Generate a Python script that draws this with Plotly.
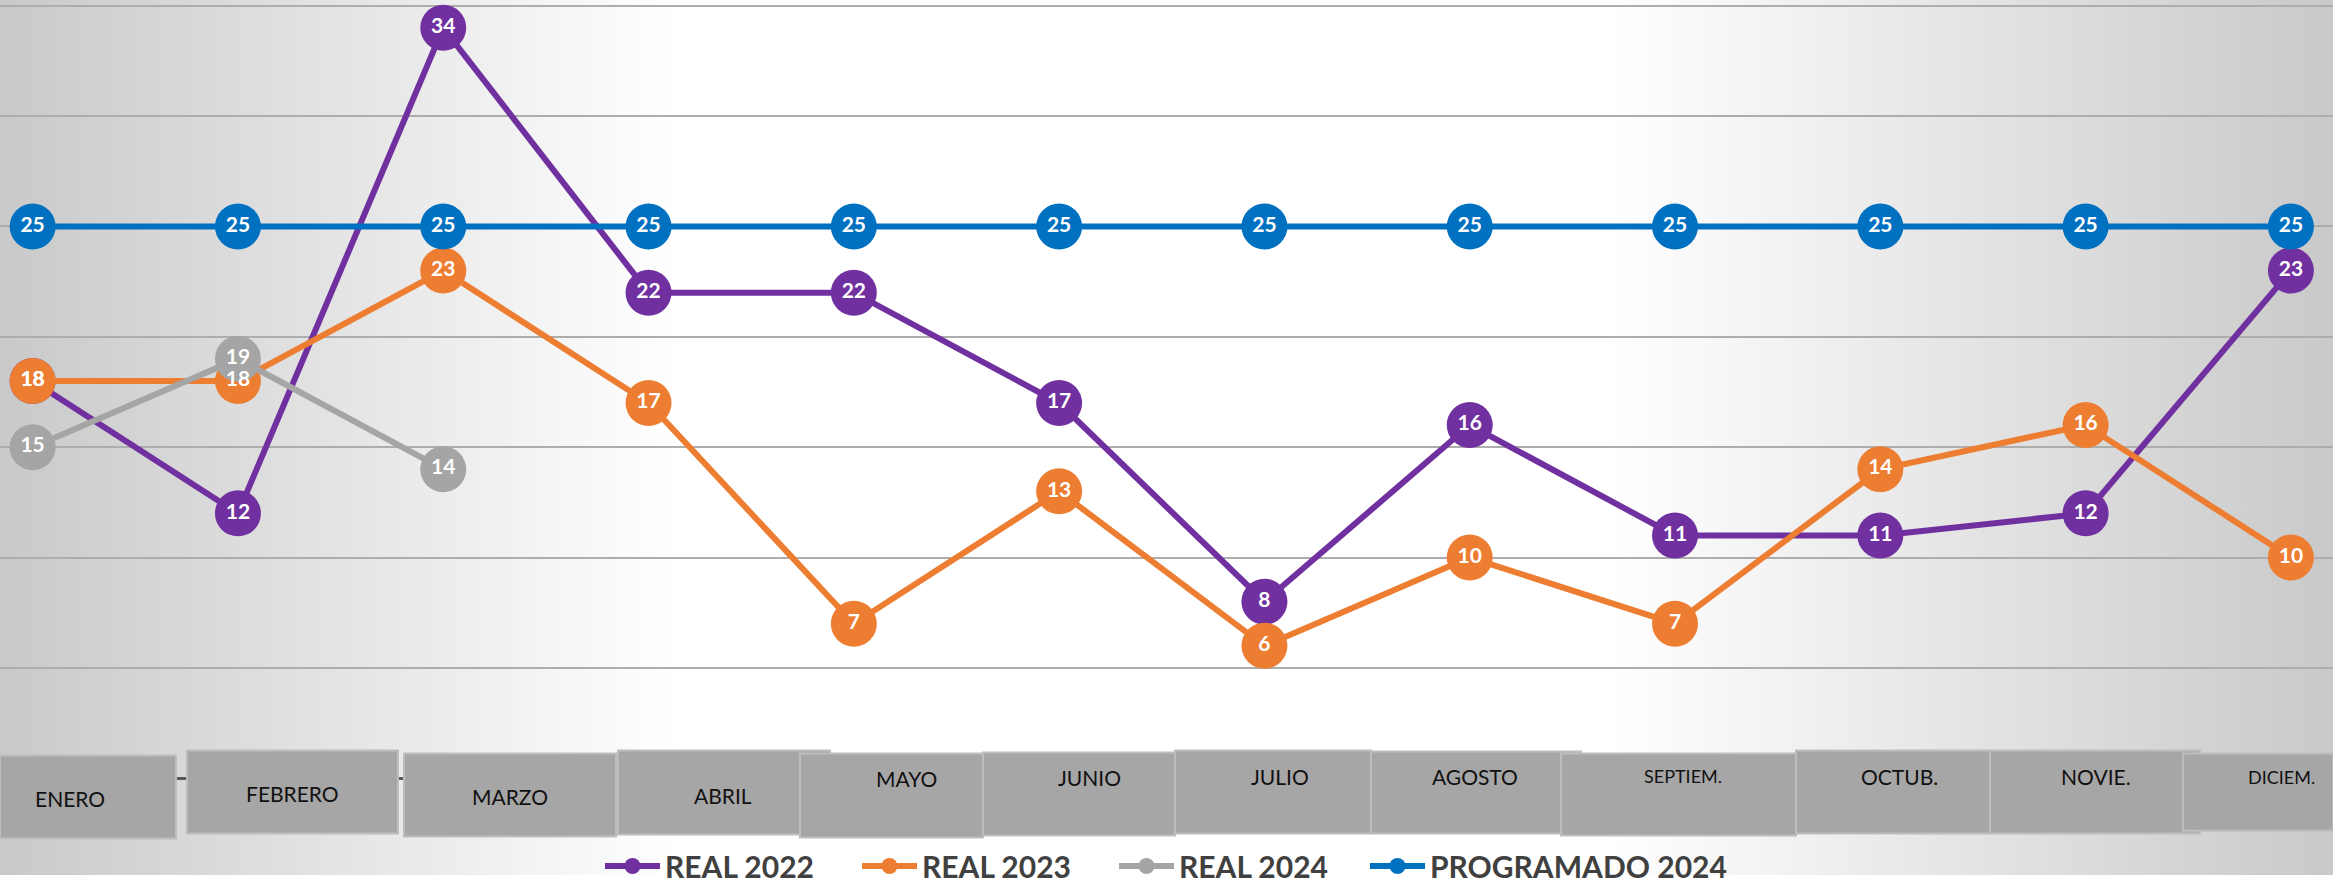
import base64
import plotly.graph_objects as go

# ---------------- data ----------------
MONTHS = ["ENERO", "FEBRERO", "MARZO", "ABRIL", "MAYO", "JUNIO", "JULIO",
          "AGOSTO", "SEPTIEM.", "OCTUB.", "NOVIE.", "DICIEM."]
REAL_2022 = [18, 12, 34, 22, 22, 17, 8, 16, 11, 11, 12, 23]
REAL_2023 = [18, 18, 23, 17, 7, 13, 6, 10, 7, 14, 16, 10]
REAL_2024 = [15, 19, 14, None, None, None, None, None, None, None, None, None]
PROG_2024 = [25, 25, 25, 25, 25, 25, 25, 25, 25, 25, 25, 25]

SERIES = [
    ("REAL 2022", REAL_2022, "#7030A0", "legend"),
    ("REAL 2023", REAL_2023, "#ED7D31", "legend"),
    ("REAL 2024", REAL_2024, "#A5A5A5", "legend"),
    ("PROGRAMADO 2024", PROG_2024, "#0070C0", "legend2"),
]

# ---------------- layout geometry (pixels) ----------------
W, H = 2333, 892
K = 0.992                 # small vertical correction of the rendered page


def py(p):
    """pixel row -> paper y"""
    return 1 - p / (K * H)


# value 0 sits at row 787, value 25 at row 229
unit = (787 - 229) / 25 / K
y_top = 25 + (229 / K) / unit
y_bot = y_top - H / unit

# (left, top, right, bottom) in pixels for each month label box
BOXES = [(0, 764, 176, 848), (187, 759, 398, 843), (404, 762, 616, 846),
         (618, 759, 830, 844), (800, 762, 983, 847), (983, 761, 1175, 845),
         (1175, 759, 1371, 843), (1371, 760, 1581, 843), (1561, 762, 1796, 845),
         (1796, 759, 1990, 843), (1990, 759, 2200, 843), (2183, 762, 2333, 840)]
# label centres in pixels and font sizes
LABEL_POS = [(70, 807), (292, 802), (510, 805), (723, 804), (907, 787), (1089, 786),
             (1280, 785), (1475, 785), (1683, 785), (1900, 785), (2096, 785), (2281, 786)]
LABEL_SIZE = [21, 21, 21, 21, 21, 21, 21, 21, 18, 21, 21, 18]

FONT = "Lato, 'Open Sans', sans-serif"

fig = go.Figure()

for name, vals, color, lg in SERIES:
    fig.add_trace(go.Scatter(
        x=MONTHS, y=vals, name=name, mode="lines+markers", legend=lg,
        line=dict(color=color, width=6),
        marker=dict(color=color, size=46, line=dict(width=0)),
        connectgaps=False, hoverinfo="skip",
    ))

# data labels on top of every marker
for name, vals, color, lg in SERIES:
    fig.add_trace(go.Scatter(
        x=MONTHS, y=vals, mode="text", showlegend=False, hoverinfo="skip",
        text=[("" if v is None else str(v)) for v in vals],
        textposition="middle center",
        textfont=dict(family=FONT, size=21, color="white", weight="bold"),
    ))

# background gradient (grey edges, white centre)
svg = ('<svg xmlns="http://www.w3.org/2000/svg" width="2333" height="892" '
       'preserveAspectRatio="none" viewBox="0 0 2333 892">'
       '<defs><linearGradient id="g" x1="0" y1="0" x2="1" y2="0">'
       '<stop offset="0" stop-color="#c9c9c9"/>'
       '<stop offset="0.29" stop-color="#ffffff"/>'
       '<stop offset="0.69" stop-color="#ffffff"/>'
       '<stop offset="1" stop-color="#c9c9c9"/>'
       '</linearGradient></defs>'
       '<rect x="0" y="0" width="2333" height="892" fill="url(#g)"/></svg>')
src = "data:image/svg+xml;base64," + base64.b64encode(svg.encode()).decode()

shapes = []
for (l, t, r, b) in BOXES:
    shapes.append(dict(type="rect", xref="paper", yref="paper",
                       x0=l / W, x1=r / W, y0=py(b), y1=py(t),
                       fillcolor="#A6A6A6", line=dict(color="#BDBDBD", width=2),
                       layer="above"))

annotations = []
for lab, (cx, cy), fs in zip(MONTHS, LABEL_POS, LABEL_SIZE):
    annotations.append(dict(text=lab, xref="paper", yref="paper",
                            x=cx / W, y=py(cy), xanchor="center", yanchor="middle",
                            showarrow=False,
                            font=dict(family=FONT, size=fs, color="#111111")))

legend_common = dict(orientation="h", yanchor="middle", y=py(876),
                     xanchor="left", bgcolor="rgba(0,0,0,0)", borderwidth=0,
                     itemwidth=55,
                     font=dict(family=FONT, size=30, color="#404040", weight="bold"),
                     itemclick=False, itemdoubleclick=False)

fig.update_layout(
    width=W, height=H, autosize=False,
    margin=dict(l=0, r=0, t=0, b=0),
    paper_bgcolor="white",
    plot_bgcolor="rgba(0,0,0,0)",
    images=[dict(source=src, xref="paper", yref="paper", x=0, y=1, sizex=1, sizey=1,
                 xanchor="left", yanchor="top", sizing="stretch", layer="below")],
    shapes=shapes,
    annotations=annotations,
    xaxis=dict(type="category", range=[-0.159, 11.205], showgrid=False,
               showticklabels=False, showline=False, zeroline=False, ticks=""),
    yaxis=dict(range=[y_bot, y_top], dtick=5, tick0=0, showticklabels=False,
               showgrid=True, gridcolor="#ADADAD", gridwidth=1.5,
               zeroline=True, zerolinecolor="#595959", zerolinewidth=3, ticks=""),
    showlegend=True,
    legend=dict(legend_common, x=600 / W, entrywidth=187, entrywidthmode="pixels"),
    legend2=dict(legend_common, x=1365 / W),
)

fig.write_html("out.html",
               config={"responsive": False, "displayModeBar": False},
               post_script="document.body.style.margin='0px';"
                           "document.body.style.overflow='hidden';"
                           "document.documentElement.style.overflow='hidden';")
